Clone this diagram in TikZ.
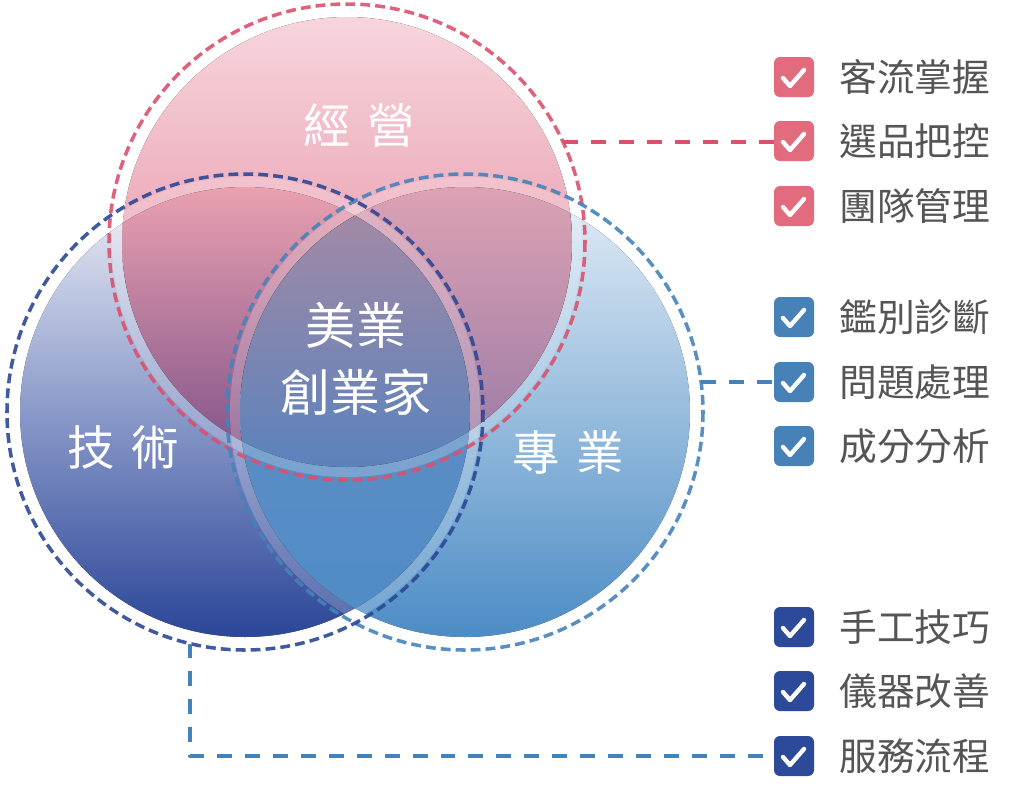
\documentclass[tikz,border=0pt]{standalone}
\usepackage{fontspec}
\setmainfont{Noto Sans CJK TC}
\usetikzlibrary{calc}

\definecolor{pinkTop}{HTML}{F7D5DC}
\definecolor{pinkBot}{HTML}{E07A93}
\definecolor{navyTop}{HTML}{EEF0F6}
\definecolor{navyMid}{HTML}{8A99C9}
\definecolor{navyBot}{HTML}{2B4698}
\definecolor{skyTop}{HTML}{E3EDF6}
\definecolor{skyBot}{HTML}{4C8CC5}
\definecolor{tlTop}{HTML}{EAA1B0}
\definecolor{tlBot}{HTML}{7C4F88}
\definecolor{trTop}{HTML}{DDA2B4}
\definecolor{trBot}{HTML}{9678A4}
\definecolor{lrTop}{HTML}{6C8DC4}
\definecolor{lrBot}{HTML}{4E8CC6}
\definecolor{midTop}{HTML}{A98AA3}
\definecolor{midBot}{HTML}{5A82BD}
\definecolor{lineRed}{HTML}{DA516D}
\definecolor{lineNavy}{HTML}{2C4794}
\definecolor{lineSky}{HTML}{4682BA}
\definecolor{boxRed}{HTML}{E26B7E}
\definecolor{boxSky}{HTML}{4682B8}
\definecolor{boxNavy}{HTML}{2D4A9A}
\definecolor{textgray}{HTML}{555555}

\begin{document}
\begin{tikzpicture}[x=0.02cm,y=-0.02cm,line cap=round,line join=round,
  ring/.style={dash pattern=on 5.6pt off 2.9pt,line width=2pt,line cap=butt,opacity=0.9},
  link/.style={dash pattern=on 8.5pt off 7.4pt,line width=2pt,line cap=butt},
  box/.style={minimum size=0.8cm,inner sep=0pt,rounded corners=3.4pt},
  item/.style={anchor=west,inner sep=0pt,text=textgray,font=\fontsize{21.5pt}{24pt}\selectfont},
  tag/.style={text=white,inner sep=0pt,font=\fontsize{27pt}{30pt}\selectfont},
  checkmark/.pic={\draw[white,line width=2.5pt] (-11,1) -- (-4,9) -- (10,-7);}]
  \useasboundingbox (0,0) rectangle (1029,789);
  \coordinate (T) at (347,242);
  \coordinate (L) at (245,412);
  \coordinate (R) at (465,412);

  % base circles
  \fill[top color=navyTop,bottom color=navyBot,middle color=navyMid] (L) circle (225);
  \fill[top color=skyTop,bottom color=skyBot] (R) circle (225);
  \fill[top color=pinkTop,bottom color=pinkBot] (T) circle (225);

  % overlaps
  \begin{scope}
    \clip (T) circle (225);
    \clip (L) circle (225);
    \fill[top color=tlTop,bottom color=tlBot] (0,185) rectangle (480,470);
  \end{scope}
  \begin{scope}
    \clip (T) circle (225);
    \clip (R) circle (225);
    \fill[top color=trTop,bottom color=trBot] (230,185) rectangle (700,470);
  \end{scope}
  \begin{scope}
    \clip (L) circle (225);
    \clip (R) circle (225);
    \fill[top color=lrTop,bottom color=lrBot] (230,190) rectangle (480,630);
  \end{scope}
  \begin{scope}
    \clip (T) circle (225);
    \clip (L) circle (225);
    \clip (R) circle (225);
    \fill[top color=midTop,bottom color=midBot] (230,190) rectangle (480,470);
  \end{scope}

  % light rims
  \draw[white,opacity=0.2,line width=5.7pt] (L) circle (230);
  \draw[white,opacity=0.2,line width=5.7pt] (R) circle (230);
  \draw[white,opacity=0.2,line width=5.7pt] (T) circle (230);

  % dashed outlines
  \draw[ring,lineRed] (T) circle (238);
  \draw[ring,lineSky] (R) circle (238);
  \draw[ring,lineNavy] (L) circle (238);

  \node[tag] (jy) at (359,125) {經\hspace{0.35em}營};
  \node[tag] (js) at (123,447) {技\hspace{0.35em}術};
  \node[tag] (zy) at (568,452) {專\hspace{0.35em}業};
  \node[tag,align=center,font=\fontsize{28.5pt}{38.5pt}\selectfont] (core) at (356,359) {美業\\創業家};

  % check lists
  \foreach \i/\y/\c/\t in {1/77/boxRed/客流掌握,2/141/boxRed/選品把控,3/206/boxRed/團隊管理,
      4/317/boxSky/鑑別診斷,5/382/boxSky/問題處理,6/446/boxSky/成分分析,
      7/627/boxNavy/手工技巧,8/691/boxNavy/儀器改善,9/756/boxNavy/服務流程}{
    \node[box,fill=\c] (m\i) at (794,\y) {};
    \pic at (m\i) {checkmark};
    \node[item] (t\i) at (839,\y) {\t};
  }

  % connectors
  \coordinate (tA) at ($(T)+(-24.8:238)$);
  \coordinate (rA) at ($(R)+(-7.2:238)$);
  \coordinate (lA) at ($(L)+(103.4:238)$);
  \draw[link,lineRed] (tA) -- (tA -| m2.west);
  \draw[link,lineSky] (rA) -- (rA -| m5.west);
  \draw[link,lineSky] (lA) |- (m9.west);
\end{tikzpicture}
\end{document}
